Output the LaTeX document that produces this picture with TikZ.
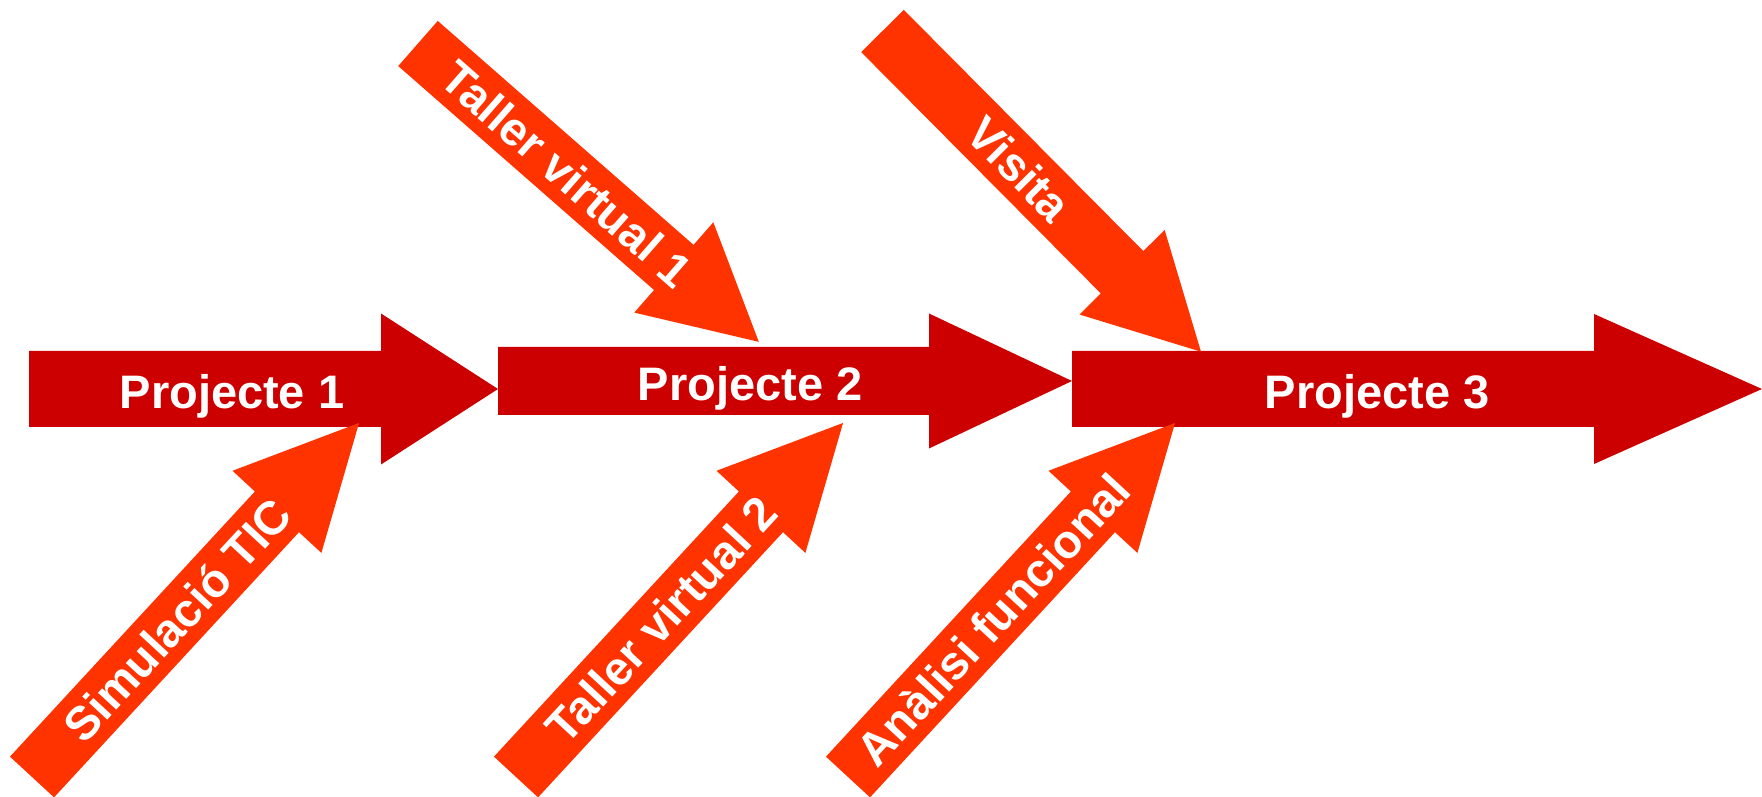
\documentclass[tikz,border=0pt]{standalone}
\usepackage{fontspec}
\setmainfont{Liberation Sans}
\definecolor{projred}{RGB}{204,0,0}
\definecolor{taskorange}{RGB}{255,51,0}

\tikzset{
  projarrow/.style={fill=projred},
  taskarrow/.style={fill=taskorange},
  labeltext/.style={text=white, inner sep=0pt, anchor=base, font=\fontsize{47}{50}\selectfont\bfseries},
}

% block arrow along +x: style, length, half shaft, half head, head length
\newcommand{\blockarrow}[5]{%
  \fill[#1] (0,-#3) -- ({#2-#5},-#3) -- ({#2-#5},-#4) -- (#2,0)
    -- ({#2-#5},#4) -- ({#2-#5},#3) -- (0,#3) -- cycle;}

\begin{document}
\begin{tikzpicture}[x=1pt, y=1pt]
  \useasboundingbox (0,0) rectangle (1762,797);

  % projects
  \begin{scope}[shift={(29,408)}]
    \blockarrow{projarrow}{469}{38}{75.5}{117}
  \end{scope}
  \begin{scope}[shift={(498,416)}]
    \blockarrow{projarrow}{574}{34}{67.5}{143}
  \end{scope}
  \begin{scope}[shift={(1072,408)}]
    \blockarrow{projarrow}{690}{38}{75}{168}
  \end{scope}
  \node[labeltext] (p1) at (232,388) {Projecte 1};
  \node[labeltext] (p2) at (750,396) {Projecte 2};
  \node[labeltext] (p3) at (1377,388) {Projecte 3};

  % activities above
  \begin{scope}[shift={(418,753.5)}, rotate=-41.2]
    \blockarrow{taskarrow}{453}{30}{60}{113}
    \node[labeltext, transform shape] (tv1) at (198,-16.8) {Taller virtual 1};
  \end{scope}
  \begin{scope}[shift={(882.5,766)}, rotate=-45.2]
    \blockarrow{taskarrow}{452}{30}{60}{112}
    \node[labeltext, transform shape] (vis) at (194,-16.8) {Visita};
  \end{scope}

  % activities below
  \begin{scope}[shift={(32,20)}, rotate=47.27]
    \blockarrow{taskarrow}{482}{30}{60.5}{121}
    \node[labeltext, transform shape] (sim) at (214,-16.8) {Simulació TIC};
  \end{scope}
  \begin{scope}[shift={(516,20)}, rotate=47.27]
    \blockarrow{taskarrow}{482}{30}{60.5}{121}
    \node[labeltext, transform shape] (tv2) at (214,-16.8) {Taller virtual 2};
  \end{scope}
  \begin{scope}[shift={(848,20)}, rotate=47.27]
    \blockarrow{taskarrow}{482}{30}{60.5}{121}
    \node[labeltext, transform shape] (anf) at (214,-16.8) {Anàlisi funcional};
  \end{scope}
\end{tikzpicture}
\end{document}
